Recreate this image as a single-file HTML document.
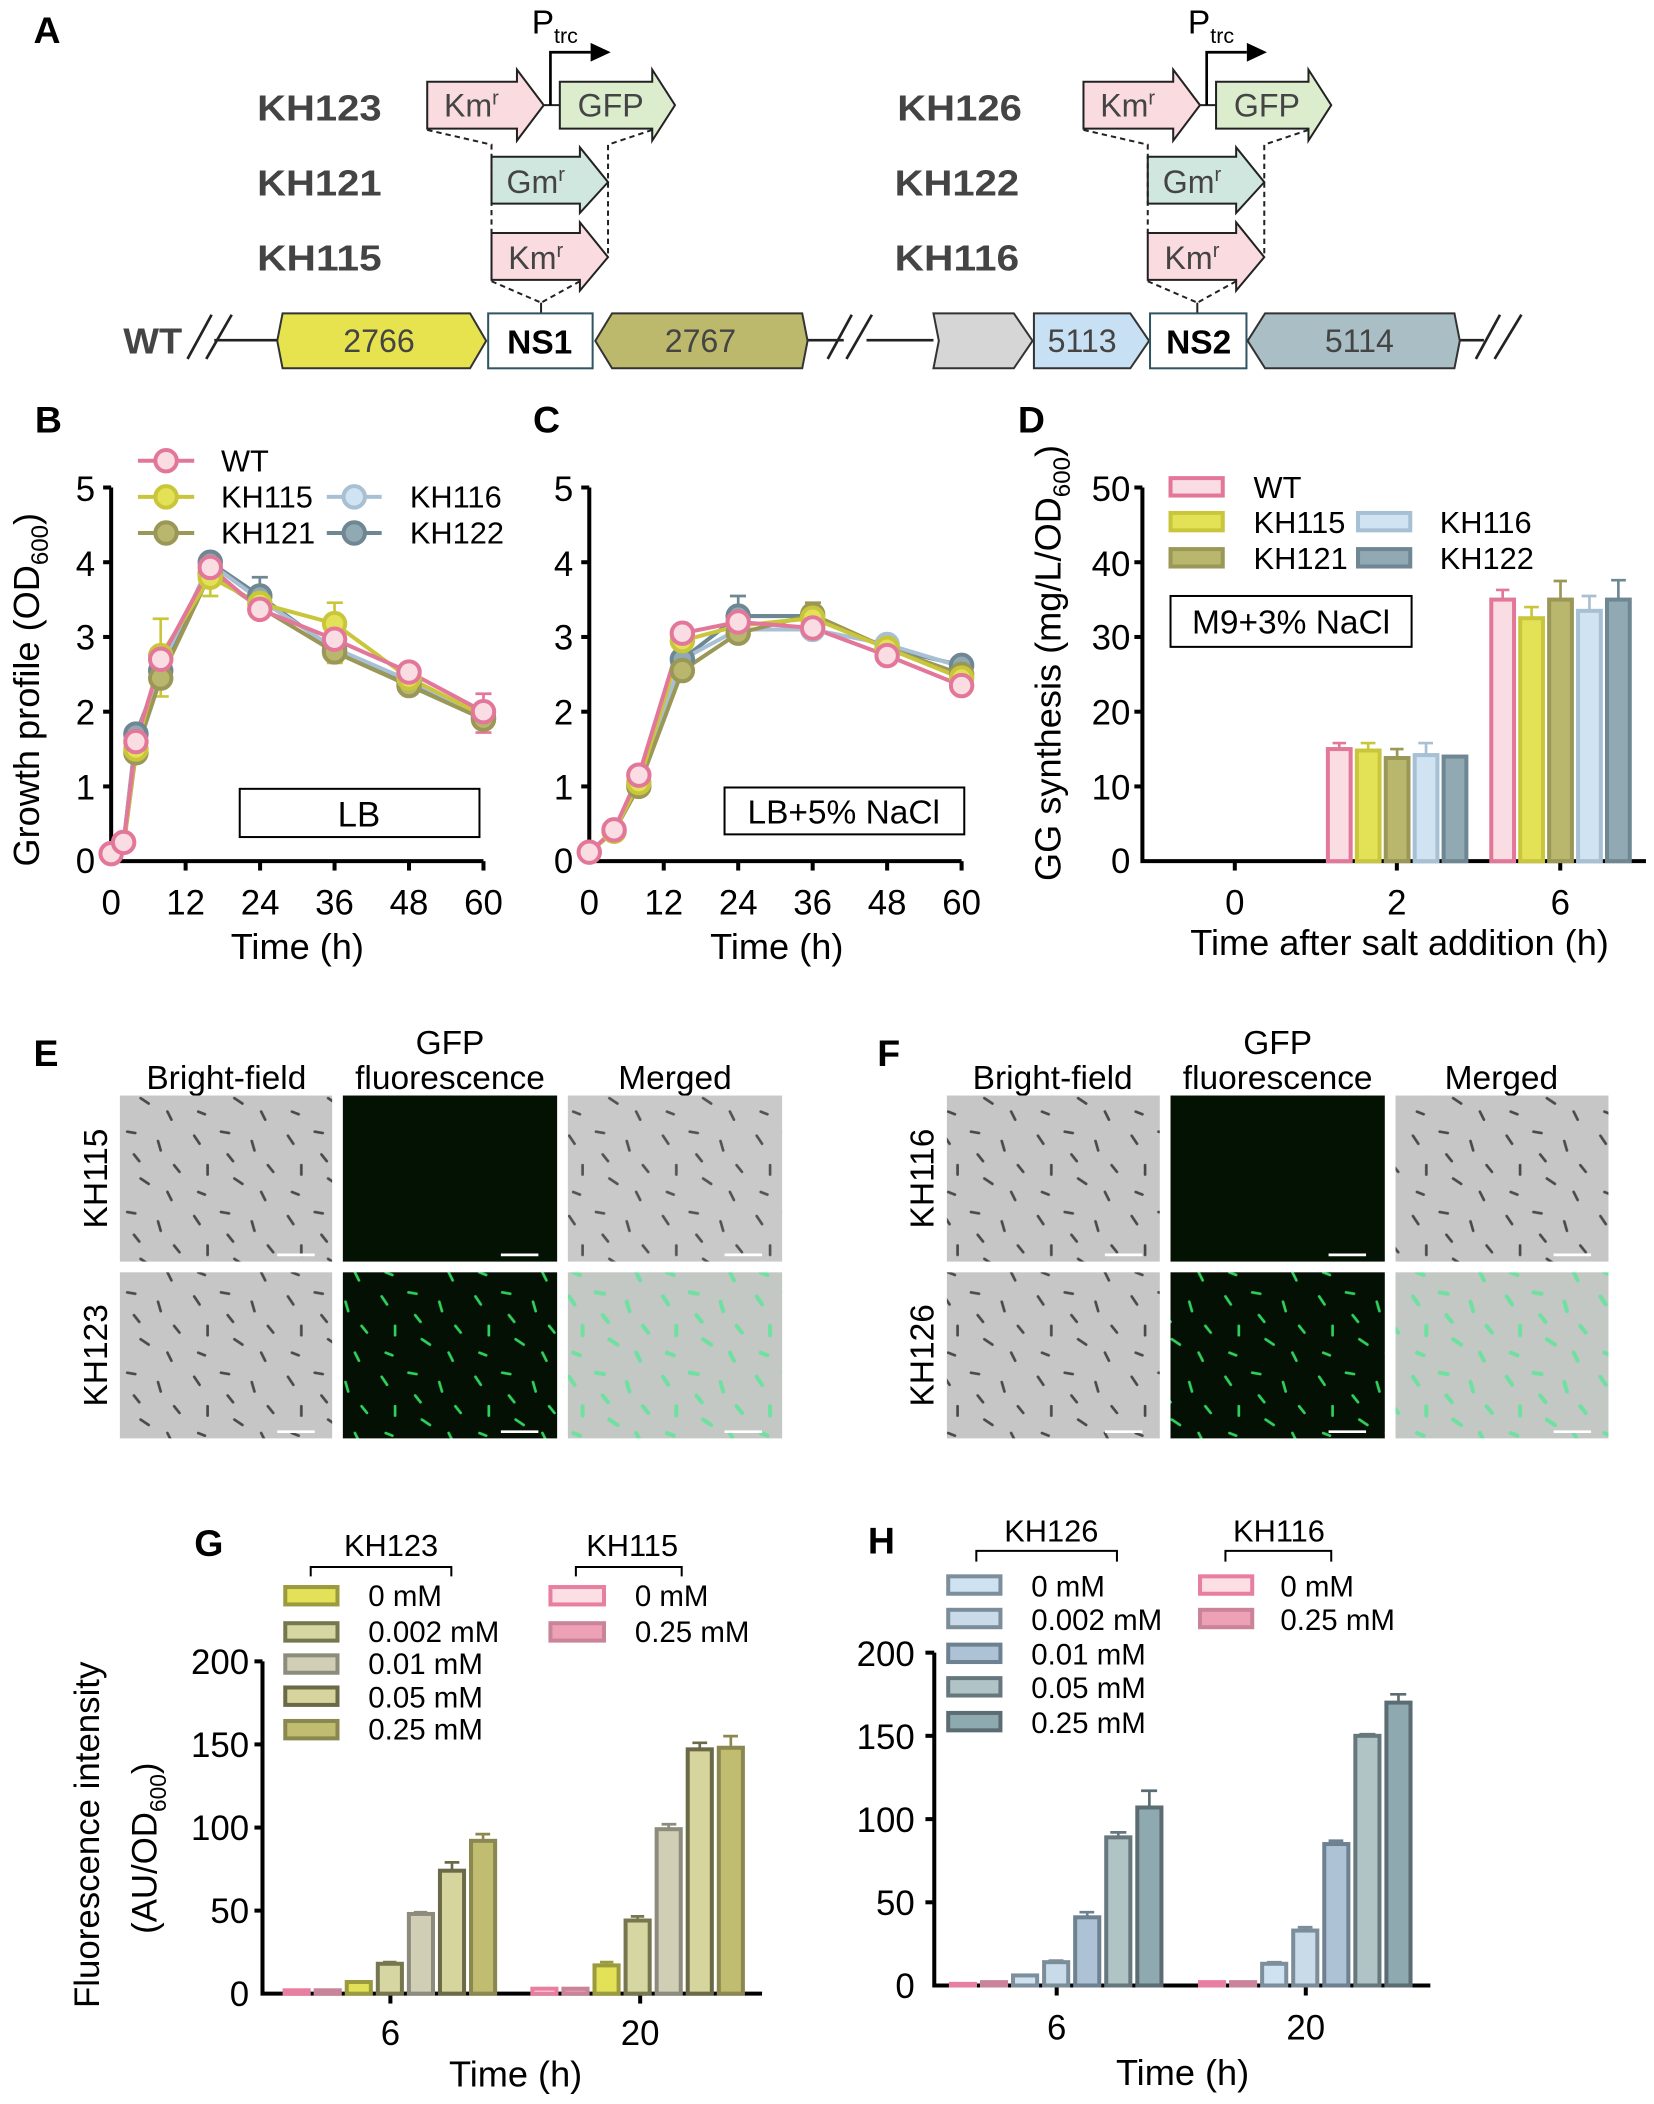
<!DOCTYPE html>
<html><head><meta charset="utf-8"><style>
html,body{margin:0;padding:0;background:#fff}
svg{display:block}
text{font-family:"Liberation Sans",Arial,sans-serif}
</style></head><body>
<svg xmlns="http://www.w3.org/2000/svg" width="1654" height="2104" viewBox="0 0 1235 1571">
<defs>
<pattern id="bf" width="70" height="60" patternUnits="userSpaceOnUse">
<rect width="70" height="60" fill="#c6c6c6"/>
<g stroke="#4a4a4a" stroke-width="2" stroke-linecap="round">
<line x1="5" y1="8" x2="9" y2="14"/><line x1="25" y1="5" x2="31" y2="6"/><line x1="48" y1="12" x2="50" y2="19"/><line x1="60" y1="30" x2="64" y2="35"/><line x1="15" y1="30" x2="15" y2="37"/><line x1="35" y1="40" x2="41" y2="44"/><line x1="8" y1="50" x2="13" y2="52"/><line x1="55" y1="50" x2="58" y2="56"/><line x1="30" y1="22" x2="34" y2="27"/></g></pattern>
<pattern id="gf" width="70" height="60" patternUnits="userSpaceOnUse">
<rect width="70" height="60" fill="#041004"/>
<g stroke="#2fd05a" stroke-width="2" stroke-linecap="round">
<line x1="5" y1="8" x2="9" y2="14"/><line x1="25" y1="5" x2="31" y2="6"/><line x1="48" y1="12" x2="50" y2="19"/><line x1="60" y1="30" x2="64" y2="35"/><line x1="15" y1="30" x2="15" y2="37"/><line x1="35" y1="40" x2="41" y2="44"/><line x1="8" y1="50" x2="13" y2="52"/><line x1="55" y1="50" x2="58" y2="56"/><line x1="30" y1="22" x2="34" y2="27"/></g></pattern>
<pattern id="mg" width="70" height="60" patternUnits="userSpaceOnUse">
<rect width="70" height="60" fill="#c3c8c5"/>
<g stroke="#6fe0a0" stroke-width="3" stroke-linecap="round">
<line x1="5" y1="8" x2="9" y2="14"/><line x1="25" y1="5" x2="31" y2="6"/><line x1="48" y1="12" x2="50" y2="19"/><line x1="60" y1="30" x2="64" y2="35"/><line x1="15" y1="30" x2="15" y2="37"/><line x1="35" y1="40" x2="41" y2="44"/><line x1="8" y1="50" x2="13" y2="52"/><line x1="55" y1="50" x2="58" y2="56"/><line x1="30" y1="22" x2="34" y2="27"/></g></pattern>
</defs>

<!-- Panel A -->
<text x="25" y="32" font-size="28" font-weight="bold">A</text>
<g font-size="27" font-weight="bold" fill="#444">
<text x="192" y="90" textLength="93" lengthAdjust="spacingAndGlyphs">KH123</text><text x="192" y="146" textLength="93" lengthAdjust="spacingAndGlyphs">KH121</text><text x="192" y="202" textLength="93" lengthAdjust="spacingAndGlyphs">KH115</text>
<text x="670" y="90" textLength="93" lengthAdjust="spacingAndGlyphs">KH126</text><text x="668" y="146" textLength="93" lengthAdjust="spacingAndGlyphs">KH122</text><text x="668" y="202" textLength="93" lengthAdjust="spacingAndGlyphs">KH116</text>
<text x="92" y="264" textLength="44" lengthAdjust="spacingAndGlyphs">WT</text>
</g>
<g id="cons" stroke="#222" stroke-width="1.5">
<polygon points="319,61 386,61 386,52 406,78.5 386,105 386,96 319,96" fill="#f9dbe0"/>
<line x1="406" y1="78.5" x2="418" y2="78.5"/>
<polygon points="418,61 487,61 487,52 504,78.5 487,105 487,96 418,96" fill="#dcedcd"/>
<polyline points="411,78.5 411,39 441,39" fill="none" stroke="#000" stroke-width="2"/>
<polygon points="441,32 456,39 441,46" fill="#000" stroke="none"/>
<polygon points="367,117 433,117 433,110 454,136 433,159 433,152 367,152" fill="#cfe7df"/>
<polygon points="367,174 433,174 433,166 454,192 433,217 433,209 367,209" fill="#f9dbe0"/>
<g fill="none" stroke-dasharray="4,3" stroke-width="1.5">
<polyline points="319,97 367,108 367,174"/>
<polyline points="487,97 454,108 454,192"/>
<polyline points="367,210 404,226"/><polyline points="433,210 404,226"/>
</g>
<line x1="404" y1="226" x2="404" y2="234"/>
</g>
<g font-size="24" fill="#444">
<text x="352" y="87" text-anchor="middle">Km<tspan font-size="15" dy="-9">r</tspan></text>
<text x="456" y="87" text-anchor="middle">GFP</text>
<text x="400" y="144" text-anchor="middle">Gm<tspan font-size="15" dy="-9">r</tspan></text>
<text x="400" y="201" text-anchor="middle">Km<tspan font-size="15" dy="-9">r</tspan></text>
</g>
<text x="397" y="25" font-size="25">P<tspan font-size="16" dy="7">trc</tspan></text>
<g transform="translate(490,0)">
<g stroke="#222" stroke-width="1.5">
<polygon points="319,61 386,61 386,52 406,78.5 386,105 386,96 319,96" fill="#f9dbe0"/>
<line x1="406" y1="78.5" x2="418" y2="78.5"/>
<polygon points="418,61 487,61 487,52 504,78.5 487,105 487,96 418,96" fill="#dcedcd"/>
<polyline points="411,78.5 411,39 441,39" fill="none" stroke="#000" stroke-width="2"/>
<polygon points="441,32 456,39 441,46" fill="#000" stroke="none"/>
<polygon points="367,117 433,117 433,110 454,136 433,159 433,152 367,152" fill="#cfe7df"/>
<polygon points="367,174 433,174 433,166 454,192 433,217 433,209 367,209" fill="#f9dbe0"/>
<g fill="none" stroke-dasharray="4,3" stroke-width="1.5">
<polyline points="319,97 367,108 367,174"/>
<polyline points="487,97 454,108 454,192"/>
<polyline points="367,210 404,226"/><polyline points="433,210 404,226"/>
</g>
<line x1="404" y1="226" x2="404" y2="234"/>
</g>
<g font-size="24" fill="#444">
<text x="352" y="87" text-anchor="middle">Km<tspan font-size="15" dy="-9">r</tspan></text>
<text x="456" y="87" text-anchor="middle">GFP</text>
<text x="400" y="144" text-anchor="middle">Gm<tspan font-size="15" dy="-9">r</tspan></text>
<text x="400" y="201" text-anchor="middle">Km<tspan font-size="15" dy="-9">r</tspan></text>
</g>
<text x="397" y="25" font-size="25">P<tspan font-size="16" dy="7">trc</tspan></text>
</g>
<!-- chromosome -->
<g stroke="#222" stroke-width="2">
<line x1="160" y1="254" x2="212" y2="254"/>
<line x1="600" y1="254" x2="630" y2="254"/>
<line x1="647" y1="254" x2="697" y2="254"/>
<line x1="1086" y1="254" x2="1108" y2="254"/>
<line x1="140" y1="268" x2="158" y2="235"/><line x1="154" y1="268" x2="173" y2="235"/>
<line x1="618" y1="268" x2="636" y2="235"/><line x1="632" y1="268" x2="651" y2="235"/>
<line x1="1102" y1="268" x2="1120" y2="235"/><line x1="1116" y1="268" x2="1136" y2="235"/>
</g>
<g stroke="#333" stroke-width="1.5">
<polygon points="211,234 351,234 363,254.5 351,275 211,275 207,254.5" fill="#e6e34f"/>
<rect x="364.5" y="234" width="78" height="41" fill="#fff" stroke="#2f5560"/>
<polygon points="444.5,254.5 457,234 599,234 603,254.5 599,275 457,275" fill="#bdb96c"/>
<polygon points="697,234 757,234 771,254.5 757,275 697,275 701,254.5" fill="#d6d6d6"/>
<polygon points="772,234 844,234 858,254.5 844,275 772,275" fill="#c8e0f4"/>
<rect x="858.7" y="234" width="72" height="41" fill="#fff" stroke="#2f5560"/>
<polygon points="931.6,254.5 944.6,234 1086,234 1090,254.5 1086,275 944.6,275" fill="#a9bfc5"/>
</g>
<g font-size="24" fill="#444" text-anchor="middle">
<text x="283" y="263">2766</text><text x="523" y="263">2767</text>
<text x="808" y="263">5113</text><text x="1015" y="263">5114</text>
</g>
<g font-size="25" font-weight="bold" text-anchor="middle">
<text x="403" y="264">NS1</text><text x="895" y="264">NS2</text>
</g>

<!-- Panel B -->
<text x="26" y="323" font-size="28" font-weight="bold">B</text>
<g stroke="#000" stroke-width="3" fill="none">
<polyline points="83,364 83,643 361,643"/>
<line x1="83" y1="364" x2="77" y2="364"/><line x1="83" y1="419.8" x2="77" y2="419.8"/><line x1="83" y1="475.6" x2="77" y2="475.6"/><line x1="83" y1="531.4" x2="77" y2="531.4"/><line x1="83" y1="587.2" x2="77" y2="587.2"/>
<line x1="138.6" y1="643" x2="138.6" y2="650"/><line x1="194.2" y1="643" x2="194.2" y2="650"/><line x1="249.8" y1="643" x2="249.8" y2="650"/><line x1="305.4" y1="643" x2="305.4" y2="650"/><line x1="361" y1="643" x2="361" y2="650"/>
</g>
<g font-size="26" text-anchor="end">
<text x="71" y="374">5</text><text x="71" y="430">4</text><text x="71" y="485">3</text><text x="71" y="541">2</text><text x="71" y="597">1</text><text x="71" y="652">0</text>
</g>
<g font-size="26" text-anchor="middle">
<text x="83" y="683">0</text><text x="138.6" y="683">12</text><text x="194.2" y="683">24</text><text x="249.8" y="683">36</text><text x="305.4" y="683">48</text><text x="361" y="683">60</text>
<text x="222" y="716" font-size="27">Time (h)</text>
</g>
<text transform="translate(29,515) rotate(-90)" font-size="27" text-anchor="middle">Growth profile (OD<tspan font-size="18" dy="7">600</tspan><tspan dy="-7">)</tspan></text>
<rect x="179" y="589" width="179" height="36" fill="#fff" stroke="#000" stroke-width="1.5"/>
<text x="268" y="617" font-size="26" text-anchor="middle">LB</text>
<g stroke-width="2" fill="none">
<path d="M120,462V520M114,462H126M114,520H126" stroke="#c9c63b"/>
<path d="M157,414V445M151,414H163M151,445H163" stroke="#c9c63b"/>
<path d="M194,431V460M188,431H200" stroke="#6e8793"/>
<path d="M249.8,450V495M244,450H256M244,495H256" stroke="#c9c63b"/>
<path d="M361,518V547M355,518H367M355,547H367" stroke="#e3779a"/>
</g>
<g stroke-width="3">
<polyline fill="none" stroke="#6e8793" points="83,636.3 92.3,629 101.5,548.1 120,500.7 157,419.8 194,445 249.8,485.6 305.4,509 361,535.9"/>
<polyline fill="none" stroke="#a8c0d3" points="83,636.3 92.3,629 101.5,550.9 120,497.9 157,420.9 194,447.7 249.8,484 305.4,508 361,534.2"/>
<polyline fill="none" stroke="#9a9757" points="83,637.4 92.3,631.8 101.5,562.1 120,506.3 157,428.2 194,453.3 249.8,486.8 305.4,511.9 361,537"/>
<polyline fill="none" stroke="#c9c63b" points="83,636.3 92.3,631.8 101.5,559.3 120,489.5 157,431 194,450.5 249.8,465.6 305.4,506.3 361,534.2"/>
<polyline fill="none" stroke="#e3779a" points="83,637.4 92.3,629 101.5,553.7 120,492.3 157,423.7 194,455 249.8,477.3 305.4,501.8 361,531.4"/>
</g>
<g stroke-width="3">
<g fill="#90a9b3" stroke="#6e8793"><circle cx="101.5" cy="548.1" r="8"/><circle cx="120" cy="500.7" r="8"/><circle cx="157" cy="419.8" r="8"/><circle cx="194" cy="445" r="8"/><circle cx="249.8" cy="485.6" r="8"/><circle cx="305.4" cy="509" r="8"/><circle cx="361" cy="535.9" r="8"/></g>
<g fill="#b9b76d" stroke="#9a9757"><circle cx="101.5" cy="562.1" r="8"/><circle cx="120" cy="506.3" r="8"/><circle cx="157" cy="428.2" r="8"/><circle cx="249.8" cy="486.8" r="8"/><circle cx="305.4" cy="511.9" r="8"/><circle cx="361" cy="537" r="8"/></g>
<g fill="#e3e256" stroke="#c9c63b"><circle cx="101.5" cy="559.3" r="8"/><circle cx="120" cy="489.5" r="8"/><circle cx="157" cy="431" r="8"/><circle cx="194" cy="450.5" r="8"/><circle cx="249.8" cy="465.6" r="8"/><circle cx="305.4" cy="506.3" r="8"/></g>
<g fill="#fadde3" stroke="#e3779a"><circle cx="83" cy="637.4" r="8"/><circle cx="92.3" cy="629" r="8"/><circle cx="101.5" cy="553.7" r="8"/><circle cx="120" cy="492.3" r="8"/><circle cx="157" cy="423.7" r="8"/><circle cx="194" cy="455" r="8"/><circle cx="249.8" cy="477.3" r="8"/><circle cx="305.4" cy="501.8" r="8"/><circle cx="361" cy="531.4" r="8"/></g>
</g>
<g stroke-width="3">
<line x1="103" y1="344" x2="145" y2="344" stroke="#e3779a"/><circle cx="124" cy="344" r="8" fill="#fadde3" stroke="#e3779a"/>
<line x1="103" y1="371" x2="145" y2="371" stroke="#c9c63b"/><circle cx="124" cy="371" r="8" fill="#e3e256" stroke="#c9c63b"/>
<line x1="103" y1="398" x2="145" y2="398" stroke="#9a9757"/><circle cx="124" cy="398" r="8" fill="#b9b76d" stroke="#9a9757"/>
<line x1="244" y1="371" x2="285" y2="371" stroke="#a8c0d3"/><circle cx="264.5" cy="371" r="8" fill="#cfe3f3" stroke="#a8c0d3"/>
<line x1="244" y1="398" x2="285" y2="398" stroke="#6e8793"/><circle cx="264.5" cy="398" r="8" fill="#90a9b3" stroke="#6e8793"/>
</g>
<g font-size="23"><text x="165" y="352">WT</text><text x="165" y="379">KH115</text><text x="165" y="406">KH121</text><text x="306" y="379">KH116</text><text x="306" y="406">KH122</text></g>

<!-- Panel C -->
<text x="398" y="323" font-size="28" font-weight="bold">C</text>
<g stroke="#000" stroke-width="3" fill="none">
<polyline points="440,364 440,643 718,643"/>
<line x1="440" y1="364" x2="434" y2="364"/><line x1="440" y1="419.8" x2="434" y2="419.8"/><line x1="440" y1="475.6" x2="434" y2="475.6"/><line x1="440" y1="531.4" x2="434" y2="531.4"/><line x1="440" y1="587.2" x2="434" y2="587.2"/>
<line x1="495.6" y1="643" x2="495.6" y2="650"/><line x1="551.2" y1="643" x2="551.2" y2="650"/><line x1="606.8" y1="643" x2="606.8" y2="650"/><line x1="662.4" y1="643" x2="662.4" y2="650"/><line x1="718" y1="643" x2="718" y2="650"/>
</g>
<g font-size="26" text-anchor="end">
<text x="428" y="374">5</text><text x="428" y="430">4</text><text x="428" y="485">3</text><text x="428" y="541">2</text><text x="428" y="597">1</text><text x="428" y="652">0</text>
</g>
<g font-size="26" text-anchor="middle">
<text x="440" y="683">0</text><text x="495.6" y="683">12</text><text x="551.2" y="683">24</text><text x="606.8" y="683">36</text><text x="662.4" y="683">48</text><text x="718" y="683">60</text>
<text x="580" y="716" font-size="27">Time (h)</text>
</g>
<rect x="541" y="588" width="179" height="35" fill="#fff" stroke="#000" stroke-width="1.5"/>
<text x="630" y="615" font-size="25" text-anchor="middle">LB+5% NaCl</text>
<g stroke-width="2" fill="none">
<path d="M551.2,445V470M545,445H557" stroke="#6e8793"/>
<path d="M606.8,450V470M601,450H613" stroke="#9a9757"/>
<path d="M509.5,468V500M504,468H515" stroke="#c9c63b"/>
</g>
<g stroke-width="3" fill="none">
<polyline stroke="#6e8793" points="440,636.3 458.5,620.7 477,581.6 509.5,492.3 551.2,460 606.8,460 662.4,484 718,496.8"/>
<polyline stroke="#a8c0d3" points="440,636.3 458.5,620.7 477,581.6 509.5,492.3 551.2,470 606.8,470 662.4,481.2 718,497.9"/>
<polyline stroke="#9a9757" points="440,636.3 458.5,620.7 477,587.2 509.5,500.7 551.2,472.8 606.8,458.9 662.4,484 718,503.5"/>
<polyline stroke="#c9c63b" points="440,636.3 458.5,620.7 477,584.4 509.5,478.4 551.2,467.2 606.8,461.6 662.4,484 718,506.3"/>
<polyline stroke="#e3779a" points="440,636.3 458.5,619.6 477,578.8 509.5,472.8 551.2,464.4 606.8,468.9 662.4,489.5 718,511.9"/>
</g>
<g stroke-width="3">
<g fill="#90a9b3" stroke="#6e8793"><circle cx="509.5" cy="492.3" r="8"/><circle cx="551.2" cy="460" r="8"/><circle cx="662.4" cy="484" r="8"/><circle cx="718" cy="496.8" r="8"/></g>
<g fill="#cfe3f3" stroke="#a8c0d3"><circle cx="662.4" cy="481.2" r="8"/><circle cx="606.8" cy="470" r="8"/></g>
<g fill="#b9b76d" stroke="#9a9757"><circle cx="477" cy="587.2" r="8"/><circle cx="509.5" cy="500.7" r="8"/><circle cx="551.2" cy="472.8" r="8"/><circle cx="606.8" cy="458.9" r="8"/><circle cx="718" cy="503.5" r="8"/></g>
<g fill="#e3e256" stroke="#c9c63b"><circle cx="458.5" cy="620.7" r="8"/><circle cx="477" cy="584.4" r="8"/><circle cx="509.5" cy="478.4" r="8"/><circle cx="606.8" cy="461.6" r="8"/><circle cx="662.4" cy="484" r="8"/><circle cx="718" cy="506.3" r="8"/></g>
<g fill="#fadde3" stroke="#e3779a"><circle cx="440" cy="636.3" r="8"/><circle cx="458.5" cy="619.6" r="8"/><circle cx="477" cy="578.8" r="8"/><circle cx="509.5" cy="472.8" r="8"/><circle cx="551.2" cy="464.4" r="8"/><circle cx="606.8" cy="468.9" r="8"/><circle cx="662.4" cy="489.5" r="8"/><circle cx="718" cy="511.9" r="8"/></g>
</g>

<!-- Panel D -->
<text x="760" y="323" font-size="28" font-weight="bold">D</text>
<g stroke="#000" stroke-width="3" fill="none">
<polyline points="853,364 853,643 1229,643"/>
<line x1="853" y1="364" x2="847" y2="364"/><line x1="853" y1="419.8" x2="847" y2="419.8"/><line x1="853" y1="475.6" x2="847" y2="475.6"/><line x1="853" y1="531.4" x2="847" y2="531.4"/><line x1="853" y1="587.2" x2="847" y2="587.2"/>
<line x1="922" y1="643" x2="922" y2="650"/><line x1="1043" y1="643" x2="1043" y2="650"/><line x1="1165" y1="643" x2="1165" y2="650"/>
</g>
<g font-size="26" text-anchor="end">
<text x="844" y="374">50</text><text x="844" y="430">40</text><text x="844" y="485">30</text><text x="844" y="541">20</text><text x="844" y="597">10</text><text x="844" y="652">0</text>
</g>
<g font-size="26" text-anchor="middle">
<text x="922" y="683">0</text><text x="1043" y="683">2</text><text x="1165" y="683">6</text>
<text x="1045" y="713" font-size="27">Time after salt addition (h)</text>
</g>
<text transform="translate(792,495) rotate(-90)" font-size="27" text-anchor="middle">GG synthesis (mg/L/OD<tspan font-size="18" dy="7">600</tspan><tspan dy="-7">)</tspan></text>
<g stroke-width="3">
<rect x="991.5" y="559.3" width="17" height="83.7" fill="#fadde3" stroke="#e3779a"/>
<rect x="1013.1" y="560.4" width="17" height="82.6" fill="#e3e256" stroke="#c9c63b"/>
<rect x="1034.7" y="566" width="17" height="77" fill="#b9b76d" stroke="#9a9757"/>
<rect x="1056.3" y="563.8" width="17" height="79.2" fill="#cfe3f3" stroke="#a8c0d3"/>
<rect x="1077.9" y="564.9" width="17" height="78.1" fill="#90a9b3" stroke="#6e8793"/>
<rect x="1113.5" y="447.7" width="17" height="195.3" fill="#fadde3" stroke="#e3779a"/>
<rect x="1135.1" y="461.6" width="17" height="181.4" fill="#e3e256" stroke="#c9c63b"/>
<rect x="1156.7" y="447.7" width="17" height="195.3" fill="#b9b76d" stroke="#9a9757"/>
<rect x="1178.3" y="456.1" width="17" height="186.9" fill="#cfe3f3" stroke="#a8c0d3"/>
<rect x="1199.9" y="447.7" width="17" height="195.3" fill="#90a9b3" stroke="#6e8793"/>
</g>
<g stroke-width="2" fill="none">
<path d="M1000,554.8V559M995,554.8H1005" stroke="#e3779a"/>
<path d="M1021.6,554.8V560M1016,554.8H1027" stroke="#c9c63b"/>
<path d="M1043.2,559.3V566M1038,559.3H1048" stroke="#9a9757"/>
<path d="M1064.8,554.8V563M1059,554.8H1070" stroke="#a8c0d3"/>
<path d="M1122,440.5V447M1117,440.5H1127" stroke="#e3779a"/>
<path d="M1143.6,453.3V461M1138,453.3H1149" stroke="#c9c63b"/>
<path d="M1165.2,433.8V447M1160,433.8H1170" stroke="#9a9757"/>
<path d="M1186.8,445V456M1181,445H1192" stroke="#a8c0d3"/>
<path d="M1208.4,433.2V447M1203,433.2H1214" stroke="#6e8793"/>
</g>
<g stroke-width="3">
<rect x="874" y="357" width="39" height="13" fill="#fadde3" stroke="#e3779a"/>
<rect x="874" y="383" width="39" height="13" fill="#e3e256" stroke="#c9c63b"/>
<rect x="874" y="410" width="39" height="13" fill="#b9b76d" stroke="#9a9757"/>
<rect x="1014" y="383" width="39" height="13" fill="#cfe3f3" stroke="#a8c0d3"/>
<rect x="1014" y="410" width="39" height="13" fill="#90a9b3" stroke="#6e8793"/>
</g>
<g font-size="23"><text x="936" y="372">WT</text><text x="936" y="398">KH115</text><text x="936" y="425">KH121</text><text x="1075" y="398">KH116</text><text x="1075" y="425">KH122</text></g>
<rect x="874" y="445" width="180" height="38" fill="#fff" stroke="#000" stroke-width="1.5"/>
<text x="964" y="473" font-size="25" text-anchor="middle">M9+3% NaCl</text>

<!-- Panel E / F -->
<text x="25" y="796" font-size="28" font-weight="bold">E</text>
<text x="655" y="796" font-size="28" font-weight="bold">F</text>
<g font-size="25" text-anchor="middle">
<text x="169" y="813">Bright-field</text><text x="336" y="787">GFP</text><text x="336" y="813">fluorescence</text><text x="504" y="813">Merged</text>
<text x="786" y="813">Bright-field</text><text x="954" y="787">GFP</text><text x="954" y="813">fluorescence</text><text x="1121" y="813">Merged</text>
</g>
<g font-size="25" text-anchor="middle">
<text transform="translate(80,880) rotate(-90)">KH115</text>
<text transform="translate(80,1012) rotate(-90)">KH123</text>
<text transform="translate(697,880) rotate(-90)">KH116</text>
<text transform="translate(697,1012) rotate(-90)">KH126</text>
</g>
<rect x="89.5" y="818" width="158.5" height="124" fill="url(#bf)"/>
<rect x="256" y="818" width="160" height="124" fill="#031203"/>
<rect x="424" y="818" width="160" height="124" fill="url(#bf)" opacity="0.95"/>
<rect x="89.5" y="950" width="158.5" height="124" fill="url(#bf)"/>
<rect x="256" y="950" width="160" height="124" fill="url(#gf)"/>
<rect x="424" y="950" width="160" height="124" fill="url(#mg)"/>
<rect x="707" y="818" width="159" height="124" fill="url(#bf)"/>
<rect x="874" y="818" width="160" height="124" fill="#031203"/>
<rect x="1042" y="818" width="159" height="124" fill="url(#bf)"/>
<rect x="707" y="950" width="159" height="124" fill="url(#bf)"/>
<rect x="874" y="950" width="160" height="124" fill="url(#gf)"/>
<rect x="1042" y="950" width="159" height="124" fill="url(#mg)"/>
<g stroke="#fff" stroke-width="2">
<line x1="207" y1="937" x2="235" y2="937"/><line x1="374" y1="937" x2="402" y2="937"/><line x1="541" y1="937" x2="569" y2="937"/>
<line x1="207" y1="1069" x2="235" y2="1069"/><line x1="374" y1="1069" x2="402" y2="1069"/><line x1="541" y1="1069" x2="569" y2="1069"/>
<line x1="825" y1="937" x2="853" y2="937"/><line x1="992" y1="937" x2="1020" y2="937"/><line x1="1160" y1="937" x2="1188" y2="937"/>
<line x1="825" y1="1069" x2="853" y2="1069"/><line x1="992" y1="1069" x2="1020" y2="1069"/><line x1="1160" y1="1069" x2="1188" y2="1069"/>
</g>

<!-- Panel G -->
<text x="145" y="1162" font-size="28" font-weight="bold">G</text>
<g font-size="23" text-anchor="middle"><text x="292" y="1162">KH123</text><text x="472" y="1162">KH115</text></g>
<g stroke="#000" stroke-width="1.5" fill="none">
<polyline points="232,1177 232,1170 337,1170 337,1177"/>
<polyline points="430,1177 430,1170 509,1170 509,1177"/>
</g>
<g stroke-width="3">
<rect x="213" y="1185" width="39" height="13" fill="#e2e157" stroke="#9c9a3e"/>
<rect x="213" y="1212" width="39" height="13" fill="#d6d6a2" stroke="#77774f"/>
<rect x="213" y="1236" width="39" height="13" fill="#d0cfb6" stroke="#8d8c7c"/>
<rect x="213" y="1260" width="39" height="13" fill="#d6d59e" stroke="#6a6a48"/>
<rect x="213" y="1285" width="39" height="13" fill="#c0bd70" stroke="#8a8850"/>
<rect x="411" y="1185" width="40" height="13" fill="#fbdfe5" stroke="#e87ea0"/>
<rect x="411" y="1212" width="40" height="13" fill="#eea0b6" stroke="#c9849a"/>
</g>
<g font-size="22"><text x="275" y="1199">0 mM</text><text x="275" y="1226">0.002 mM</text><text x="275" y="1250">0.01 mM</text><text x="275" y="1275">0.05 mM</text><text x="275" y="1299">0.25 mM</text>
<text x="474" y="1199">0 mM</text><text x="474" y="1226">0.25 mM</text></g>
<g stroke="#000" stroke-width="3" fill="none">
<polyline points="196,1240.5 196,1488.6 569,1488.6"/>
<line x1="196" y1="1240.5" x2="190" y2="1240.5"/><line x1="196" y1="1302.5" x2="190" y2="1302.5"/><line x1="196" y1="1364.6" x2="190" y2="1364.6"/><line x1="196" y1="1426.6" x2="190" y2="1426.6"/>
<line x1="291.5" y1="1488.6" x2="291.5" y2="1496"/><line x1="478" y1="1488.6" x2="478" y2="1496"/>
</g>
<g font-size="26" text-anchor="end"><text x="186" y="1250">200</text><text x="186" y="1312">150</text><text x="186" y="1374">100</text><text x="186" y="1436">50</text><text x="186" y="1498">0</text></g>
<g font-size="26" text-anchor="middle"><text x="291.5" y="1527">6</text><text x="478" y="1527">20</text><text x="385" y="1558" font-size="27">Time (h)</text></g>
<text transform="translate(74,1370) rotate(-90)" font-size="26" text-anchor="middle">Fluorescence intensity</text>
<text transform="translate(117,1380) rotate(-90)" font-size="26" text-anchor="middle">(AU/OD<tspan font-size="17" dy="7">600</tspan><tspan dy="-7">)</tspan></text>
<g stroke-width="3">
<rect x="212.5" y="1486.1" width="18" height="2.5" fill="#fbdfe5" stroke="#e87ea0"/>
<rect x="235.7" y="1486.1" width="18" height="2.5" fill="#eea0b6" stroke="#c9849a"/>
<rect x="258.9" y="1479.9" width="18" height="8.7" fill="#e2e157" stroke="#9c9a3e"/>
<rect x="282.1" y="1466.3" width="18" height="22.3" fill="#d6d6a2" stroke="#77774f"/>
<rect x="305.3" y="1429.1" width="18" height="59.5" fill="#d0cfb6" stroke="#8d8c7c"/>
<rect x="328.5" y="1396.8" width="18" height="91.8" fill="#d6d59e" stroke="#6a6a48"/>
<rect x="351.7" y="1374.5" width="18" height="114.1" fill="#c0bd70" stroke="#8a8850"/>
<rect x="397.5" y="1484.9" width="18" height="3.7" fill="#fbdfe5" stroke="#e87ea0"/>
<rect x="420.7" y="1484.9" width="18" height="3.7" fill="#eea0b6" stroke="#c9849a"/>
<rect x="443.9" y="1467.5" width="18" height="21.1" fill="#e2e157" stroke="#9c9a3e"/>
<rect x="467.1" y="1434" width="18" height="54.6" fill="#d6d6a2" stroke="#77774f"/>
<rect x="490.3" y="1365.8" width="18" height="122.8" fill="#d0cfb6" stroke="#8d8c7c"/>
<rect x="513.5" y="1306.2" width="18" height="182.4" fill="#d6d59e" stroke="#6a6a48"/>
<rect x="536.7" y="1305" width="18" height="183.6" fill="#c0bd70" stroke="#8a8850"/>
</g>
<g stroke-width="2" fill="none">
<path d="M291,1465V1466M286,1465H296" stroke="#77774f"/>
<path d="M314.3,1427.8V1429M309,1427.8H319" stroke="#8d8c7c"/>
<path d="M337.5,1390.6V1396M332,1390.6H343" stroke="#6a6a48"/>
<path d="M360.7,1369.5V1374M355,1369.5H366" stroke="#8a8850"/>
<path d="M452.9,1465V1467M448,1465H458" stroke="#9c9a3e"/>
<path d="M476.1,1430.9V1434M471,1430.9H481" stroke="#77774f"/>
<path d="M499.3,1362.1V1365M494,1362.1H505" stroke="#8d8c7c"/>
<path d="M522.5,1301.3V1306M517,1301.3H528" stroke="#6a6a48"/>
<path d="M545.7,1296.3V1305M540,1296.3H551" stroke="#8a8850"/>
</g>

<!-- Panel H -->
<text x="648" y="1160" font-size="28" font-weight="bold">H</text>
<g font-size="23" text-anchor="middle"><text x="785" y="1151">KH126</text><text x="955" y="1151">KH116</text></g>
<g stroke="#000" stroke-width="1.5" fill="none">
<polyline points="729,1166 729,1158 834,1158 834,1166"/>
<polyline points="915,1166 915,1158 994,1158 994,1166"/>
</g>
<g stroke-width="3">
<rect x="708" y="1177" width="39" height="13" fill="#cfe2f2" stroke="#7d8f9c"/>
<rect x="708" y="1202" width="39" height="13" fill="#c9dbe9" stroke="#7b8d99"/>
<rect x="708" y="1228" width="39" height="13" fill="#adc2d4" stroke="#6e8190"/>
<rect x="708" y="1253" width="39" height="13" fill="#b0c4c6" stroke="#66787e"/>
<rect x="708" y="1279" width="39" height="13" fill="#8fa9b0" stroke="#5b6d73"/>
<rect x="896" y="1177" width="39" height="13" fill="#fbdfe5" stroke="#e87ea0"/>
<rect x="896" y="1202" width="39" height="13" fill="#eea0b6" stroke="#c9849a"/>
</g>
<g font-size="22"><text x="770" y="1192">0 mM</text><text x="770" y="1217">0.002 mM</text><text x="770" y="1243">0.01 mM</text><text x="770" y="1268">0.05 mM</text><text x="770" y="1294">0.25 mM</text>
<text x="956" y="1192">0 mM</text><text x="956" y="1217">0.25 mM</text></g>
<g stroke="#000" stroke-width="3" fill="none">
<polyline points="697.6,1234 697.6,1482.5 1068,1482.5"/>
<line x1="697.6" y1="1234" x2="691" y2="1234"/><line x1="697.6" y1="1296.1" x2="691" y2="1296.1"/><line x1="697.6" y1="1358.3" x2="691" y2="1358.3"/><line x1="697.6" y1="1420.4" x2="691" y2="1420.4"/>
<line x1="789" y1="1482.5" x2="789" y2="1490"/><line x1="975" y1="1482.5" x2="975" y2="1490"/>
</g>
<g font-size="26" text-anchor="end"><text x="683" y="1244">200</text><text x="683" y="1306">150</text><text x="683" y="1368">100</text><text x="683" y="1430">50</text><text x="683" y="1492">0</text></g>
<g font-size="26" text-anchor="middle"><text x="789" y="1523">6</text><text x="975" y="1523">20</text><text x="883" y="1557" font-size="27">Time (h)</text></g>
<g stroke-width="3">
<rect x="710" y="1481.3" width="18" height="1.2" fill="#fbdfe5" stroke="#e87ea0"/>
<rect x="733.2" y="1480" width="18" height="2.5" fill="#eea0b6" stroke="#c9849a"/>
<rect x="756.4" y="1475" width="18" height="7.5" fill="#cfe2f2" stroke="#7d8f9c"/>
<rect x="779.6" y="1465.1" width="18" height="17.4" fill="#c9dbe9" stroke="#7b8d99"/>
<rect x="802.8" y="1431.6" width="18" height="50.9" fill="#adc2d4" stroke="#6e8190"/>
<rect x="826" y="1371.9" width="18" height="110.6" fill="#b0c4c6" stroke="#66787e"/>
<rect x="849.2" y="1349.6" width="18" height="132.9" fill="#8fa9b0" stroke="#5b6d73"/>
<rect x="896" y="1480" width="18" height="2.5" fill="#fbdfe5" stroke="#e87ea0"/>
<rect x="919.2" y="1480" width="18" height="2.5" fill="#eea0b6" stroke="#c9849a"/>
<rect x="942.4" y="1466.3" width="18" height="16.2" fill="#cfe2f2" stroke="#7d8f9c"/>
<rect x="965.6" y="1441.5" width="18" height="41" fill="#c9dbe9" stroke="#7b8d99"/>
<rect x="988.8" y="1376.9" width="18" height="105.6" fill="#adc2d4" stroke="#6e8190"/>
<rect x="1012" y="1296.1" width="18" height="186.4" fill="#b0c4c6" stroke="#66787e"/>
<rect x="1035.2" y="1271.3" width="18" height="211.2" fill="#8fa9b0" stroke="#5b6d73"/>
</g>
<g stroke-width="2" fill="none">
<path d="M788.6,1463.9V1465M783,1463.9H794" stroke="#7b8d99"/>
<path d="M811.8,1427.8V1431M806,1427.8H817" stroke="#6e8190"/>
<path d="M835,1368.2V1371M829,1368.2H841" stroke="#66787e"/>
<path d="M858.2,1337.1V1349M852,1337.1H864" stroke="#5b6d73"/>
<path d="M951.4,1465.1V1466M946,1465.1H957" stroke="#7d8f9c"/>
<path d="M974.6,1439V1441M969,1439H980" stroke="#7b8d99"/>
<path d="M997.8,1374.4V1376M992,1374.4H1003" stroke="#6e8190"/>
<path d="M1021,1294.9V1296M1015,1294.9H1027" stroke="#66787e"/>
<path d="M1044.2,1265.1V1271M1038,1265.1H1050" stroke="#5b6d73"/>
</g>
</svg>
</body></html>
